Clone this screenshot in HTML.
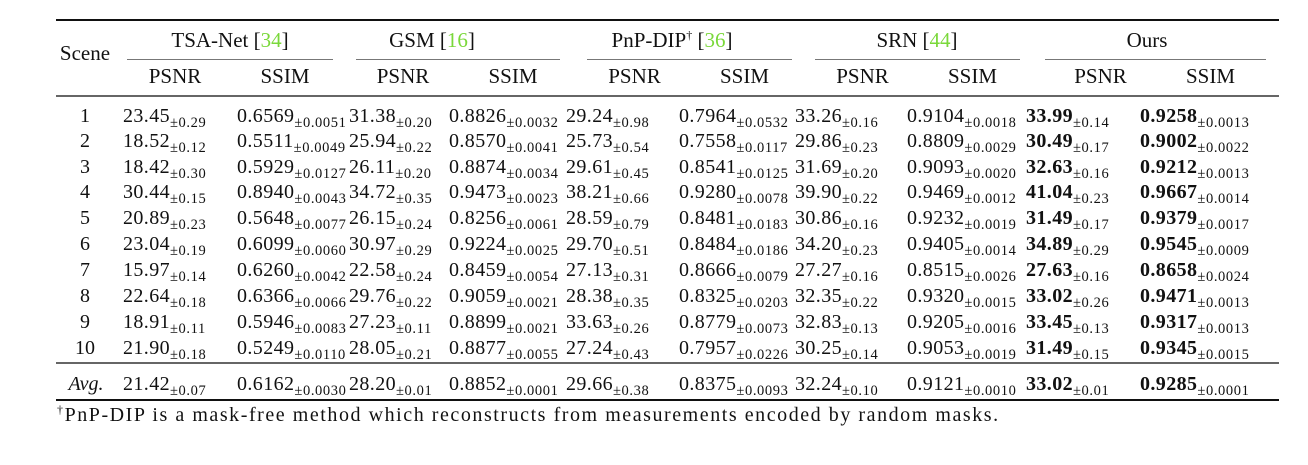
<!DOCTYPE html>
<html><head><meta charset="utf-8"><style>
body{margin:0;background:#fff;width:1308px;height:465px;overflow:hidden;position:relative;font-family:"Liberation Serif",serif;color:#111}
.t{position:absolute;white-space:nowrap;font-size:20px;line-height:20px}
.n{letter-spacing:0.4px}
.h{font-size:21px}
.c{transform:translateX(-50%)}
sub{font-size:14.5px;vertical-align:-5px;line-height:0;letter-spacing:0.6px}
sup{line-height:0}
.r{position:absolute;left:56px;width:1223px}
.m{position:absolute;height:1px;background:#777;top:59px}
.g{color:#7ad83a}
</style></head><body>
<div class="r" style="top:19px;height:2px;background:#111"></div>
<div class="r" style="top:95px;height:2px;background:#666"></div>
<div class="r" style="top:362px;height:2px;background:#666"></div>
<div class="r" style="top:399px;height:2px;background:#111"></div>
<div class="t c h" style="left:85px;top:43px">Scene</div>
<div id="root"></div>
<div class="t" style="left:57px;top:405px;font-size:20px;letter-spacing:1.55px"><sup style="font-size:12px">†</sup>PnP-DIP is a mask-free method which reconstructs from measurements encoded by random masks.</div>
<script>
const methods=["TSA-Net","GSM","PnP-DIP","SRN","Ours"];
const refs=["34","16","36","44",""];
const groupCenters=[230,432,672,917,1147];
const ruleSpans=[[127,333],[356,560],[587,792],[815,1020],[1045,1266]];
const cellStarts=[123,237,349,449,566,679,795,907,1026,1140];
const scenes=["1","2","3","4","5","6","7","8","9","10","Avg."];
const psnr=[
[[23.45,.29],[31.38,.20],[29.24,.98],[33.26,.16],[33.99,.14]],
[[18.52,.12],[25.94,.22],[25.73,.54],[29.86,.23],[30.49,.17]],
[[18.42,.30],[26.11,.20],[29.61,.45],[31.69,.20],[32.63,.16]],
[[30.44,.15],[34.72,.35],[38.21,.66],[39.90,.22],[41.04,.23]],
[[20.89,.23],[26.15,.24],[28.59,.79],[30.86,.16],[31.49,.17]],
[[23.04,.19],[30.97,.29],[29.70,.51],[34.20,.23],[34.89,.29]],
[[15.97,.14],[22.58,.24],[27.13,.31],[27.27,.16],[27.63,.16]],
[[22.64,.18],[29.76,.22],[28.38,.35],[32.35,.22],[33.02,.26]],
[[18.91,.11],[27.23,.11],[33.63,.26],[32.83,.13],[33.45,.13]],
[[21.90,.18],[28.05,.21],[27.24,.43],[30.25,.14],[31.49,.15]],
[[21.42,.07],[28.20,.01],[29.66,.38],[32.24,.10],[33.02,.01]]];
const ssim=[
[[.6569,.0051],[.8826,.0032],[.7964,.0532],[.9104,.0018],[.9258,.0013]],
[[.5511,.0049],[.8570,.0041],[.7558,.0117],[.8809,.0029],[.9002,.0022]],
[[.5929,.0127],[.8874,.0034],[.8541,.0125],[.9093,.0020],[.9212,.0013]],
[[.8940,.0043],[.9473,.0023],[.9280,.0078],[.9469,.0012],[.9667,.0014]],
[[.5648,.0077],[.8256,.0061],[.8481,.0183],[.9232,.0019],[.9379,.0017]],
[[.6099,.0060],[.9224,.0025],[.8484,.0186],[.9405,.0014],[.9545,.0009]],
[[.6260,.0042],[.8459,.0054],[.8666,.0079],[.8515,.0026],[.8658,.0024]],
[[.6366,.0066],[.9059,.0021],[.8325,.0203],[.9320,.0015],[.9471,.0013]],
[[.5946,.0083],[.8899,.0021],[.8779,.0073],[.9205,.0016],[.9317,.0013]],
[[.5249,.0110],[.8877,.0055],[.7957,.0226],[.9053,.0019],[.9345,.0015]],
[[.6162,.0030],[.8852,.0001],[.8375,.0093],[.9121,.0010],[.9285,.0001]]];
const rowY=[106,131,157,182,208,234,260,286,312,338,374];
const root=document.getElementById('root');
function mk(cls,left,top,html){const d=document.createElement('div');d.className=cls;d.style.left=left+'px';d.style.top=top+'px';d.innerHTML=html;root.appendChild(d);return d;}
methods.forEach((m,i)=>{
 const h=mk('t c h',groupCenters[i],30,m+(m==="PnP-DIP"?'<sup style="font-size:12px">†</sup>':'')+(refs[i]?' [<span class="g">'+refs[i]+'</span>]':''));
 
 
 const ln=document.createElement('div');ln.className='m';ln.style.left=ruleSpans[i][0]+'px';ln.style.width=(ruleSpans[i][1]-ruleSpans[i][0])+'px';
 
 
 root.appendChild(ln);
 const p=mk('t c h',(ruleSpans[i][0]+ruleSpans[i][1])/2-55,66,'PSNR');
 
 
 const s=mk('t c h',(ruleSpans[i][0]+ruleSpans[i][1])/2+55,66,'SSIM');
 
 
});
scenes.forEach((sc,r)=>{
 const y=rowY[r];
 const l=mk('t c',r===10?86:85,y,r===10?'<i>Avg.</i>':sc);
 
 
 for(let i=0;i<5;i++){
  const b=i===4;
  const a=psnr[r][i],q=ssim[r][i];
  const c1=mk('t n',cellStarts[2*i],y,(b?'<b>':'')+a[0].toFixed(2)+(b?'</b>':'')+'<sub>±'+a[1].toFixed(2)+'</sub>');
  
  
  const c2=mk('t n',cellStarts[2*i+1],y,(b?'<b>':'')+q[0].toFixed(4)+(b?'</b>':'')+'<sub>±'+q[1].toFixed(4)+'</sub>');
  
  
 }
});
</script>
</body></html>
